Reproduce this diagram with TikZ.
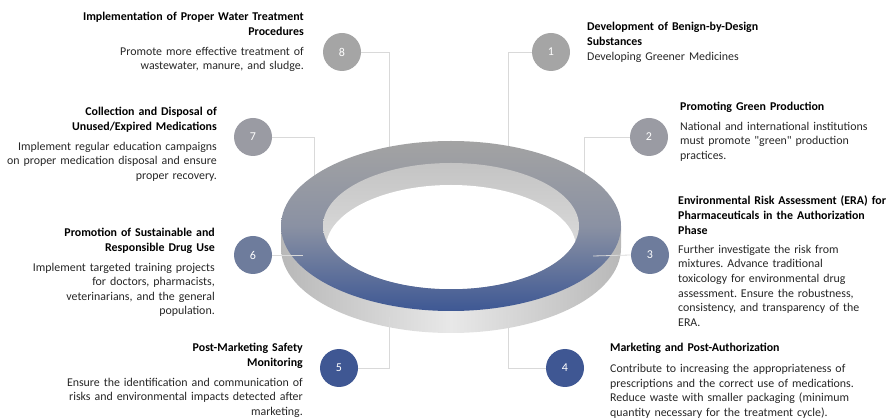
\documentclass[tikz,border=0pt]{standalone}
\usepackage{fontspec}
\setmainfont{Carlito}[Ligatures=TeXOff]
\definecolor{linec}{HTML}{D9D9D9}
\definecolor{bodyc}{HTML}{262626}
\definecolor{stepA}{HTML}{A5A5A5}
\definecolor{stepB}{HTML}{9A9BA3}
\definecolor{stepC}{HTML}{6E7C9C}
\definecolor{stepD}{HTML}{3F5793}
\definecolor{ringtop}{HTML}{A3A3A3}
\definecolor{ringmid}{HTML}{8A91A3}
\definecolor{ringbot}{HTML}{3E5894}
\definecolor{sidedark}{HTML}{B8B8B8}
\definecolor{sidelight}{HTML}{E8E8E8}
\definecolor{walltop}{HTML}{C4C4C4}
\definecolor{wallbot}{HTML}{E6E6E6}
\newcommand\blocktitle[1]{{\color{black}\bfseries #1}}
\frenchspacing
\begin{document}
\begin{tikzpicture}[x=1pt,y=-1pt,
  conn/.style={draw=linec, line width=0.8pt},
  badge/.style={circle, minimum size=38pt, inner sep=0pt, text=white,
    font=\fontsize{12}{14}\selectfont},
  lbl/.style={inner sep=0pt, text width=#1, text=bodyc,
    font=\fontsize{11.9}{14.6}\selectfont},
  rlbl/.style={lbl=#1, align=right, anchor=base east},
  llbl/.style={lbl=#1, align=left, anchor=base west},
]
\useasboundingbox (0,0) rectangle (889,419);

% numbered badges
\node[badge, fill=stepA] (c8) at (342,52)  {8};
\node[badge, fill=stepA] (c1) at (551,52)  {1};
\node[badge, fill=stepB] (c7) at (253,137) {7};
\node[badge, fill=stepB] (c2) at (649,137) {2};
\node[badge, fill=stepC] (c6) at (253,255) {6};
\node[badge, fill=stepC] (c3) at (650,255) {3};
\node[badge, fill=stepD] (c5) at (339,368) {5};
\node[badge, fill=stepD] (c4) at (565,368) {4};

% attachment points on the ring
\coordinate (r8) at (389,160);
\coordinate (r1) at (508,160);
\coordinate (r7) at (314,195);
\coordinate (r2) at (584,195);
\coordinate (r6) at (303,255);
\coordinate (r3) at (593,256);
\coordinate (r5) at (389,317);
\coordinate (r4) at (508,315);

% connectors running behind the ring
\draw[conn] (c8.east) -| (r8);
\draw[conn] (c1.west) -| (r1);
\draw[conn] (c7.east) -| (r7);
\draw[conn] (c2.west) -| (r2);

% ring: outer side wall
\shade[left color=sidedark, right color=sidedark, middle color=sidelight]
  (281,226) -- (281,248) arc[start angle=180, end angle=0, x radius=170, y radius=85]
  -- (621,226) -- cycle;
% ring: top face
\shade[top color=ringtop, bottom color=ringbot, middle color=ringmid]
  (451,226) ellipse [x radius=170, y radius=85];
% ring: inner wall and hole
\shade[top color=walltop, bottom color=wallbot]
  (451,226) ellipse [x radius=128, y radius=63];
\begin{scope}
  \clip (451,226) ellipse [x radius=128, y radius=63];
  \fill[white] (451,248) ellipse [x radius=125, y radius=63];
\end{scope}

% connectors drawn over the ring
\draw[conn] (c6.east) -- (r6);
\draw[conn] (c3.west) -- (r3);
\draw[conn] (c5.east) -| (r5);
\draw[conn] (c4.west) -| (r4);

% texts, left column
\node[rlbl=280pt] (t8) at (304,21) {\blocktitle{Implementation of Proper Water Treatment}\\\blocktitle{Procedures}\\[5pt]Promote more effective treatment of\\wastewater, manure, and sludge.};
\node[rlbl=230pt] (t7) at (217,116) {\blocktitle{Collection and Disposal of}\\\blocktitle{Unused/Expired Medications}\\[5pt]Implement regular education campaigns\\on proper medication disposal and ensure\\proper recovery.};
\node[rlbl=230pt] (t6) at (215,237) {\blocktitle{Promotion of Sustainable and}\\\blocktitle{Responsible Drug Use}\\[5pt]Implement targeted training projects\\for doctors, pharmacists,\\veterinarians, and the general\\population.};
\node[rlbl=280pt] (t5) at (303,352) {\blocktitle{Post-Marketing Safety}\\\blocktitle{Monitoring}\\[5pt]Ensure the identification and communication of\\risks and environmental impacts detected after\\marketing.};

% texts, right column
\node[llbl=280pt] (t1) at (587,31) {\blocktitle{Development of Benign-by-Design}\\\blocktitle{Substances}\\Developing Greener Medicines};
\node[llbl=205pt] (t2) at (680,111) {\blocktitle{Promoting Green Production}\\[4.5pt]National and international institutions\\must promote "green" production\\practices.};
\node[llbl=215pt] (t3) at (678,205) {\blocktitle{Environmental Risk Assessment (ERA) for}\\\blocktitle{Pharmaceuticals in the Authorization}\\\blocktitle{Phase}\\[4.5pt]Further investigate the risk from\\mixtures. Advance traditional\\toxicology for environmental drug\\assessment. Ensure the robustness,\\consistency, and transparency of the\\ERA.};
\node[llbl=280pt] (t4) at (610,352) {\blocktitle{Marketing and Post-Authorization}\\[6pt]Contribute to increasing the appropriateness of\\prescriptions and the correct use of medications.\\Reduce waste with smaller packaging (minimum\\quantity necessary for the treatment cycle).};
\end{tikzpicture}
\end{document}
